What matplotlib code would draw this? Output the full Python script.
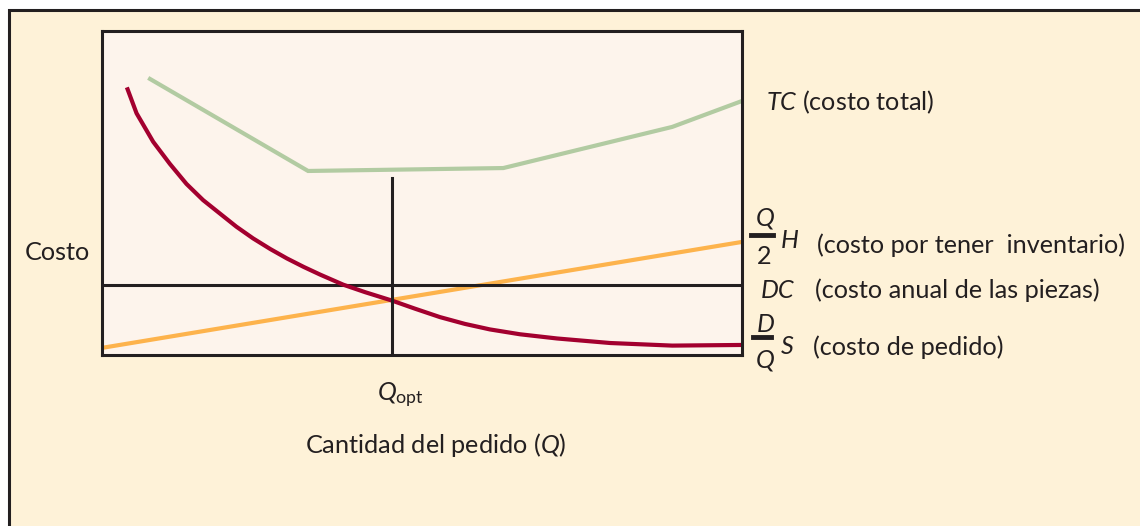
import matplotlib
matplotlib.use("Agg")
import matplotlib.pyplot as plt
from matplotlib.patches import Rectangle
from matplotlib.lines import Line2D

plt.rcParams['font.family'] = ['Lato', 'DejaVu Sans']
plt.rcParams['mathtext.fontset'] = 'custom'
plt.rcParams['mathtext.rm'] = 'Lato'
plt.rcParams['mathtext.it'] = 'Lato:italic'

# cost curves (arbitrary units, Q from 0 to 10)
q_order = [0.40, 0.54, 0.80, 1.06, 1.32, 1.58, 1.84, 2.10, 2.36, 2.63, 2.89, 3.15, 3.41,
           3.77, 4.11, 4.53, 4.89, 5.28, 5.67, 6.06, 6.53, 7.11, 7.94, 8.91, 10.0]
cost_order = [8.20, 7.46, 6.58, 5.90, 5.28, 4.78, 4.37, 3.96, 3.60, 3.27, 2.98, 2.72, 2.48,
              2.17, 1.94, 1.68, 1.43, 1.17, 0.96, 0.79, 0.64, 0.51, 0.37, 0.29, 0.31]

q_total = [0.75, 3.22, 6.27, 8.91, 10.0]
cost_total = [8.52, 5.68, 5.77, 7.04, 7.84]

q_hold = [0.0, 10.0]
cost_hold = [0.22, 3.49]

cost_annual = 2.16
q_opt = 4.53
q_opt_top = 5.46

W, H = 1140, 526
def fx(x):
    return x / W
def fy(y):
    return 1 - y / H

fig = plt.figure(figsize=(11.4, 5.26), dpi=100)
fig.patch.set_facecolor('white')
fig.add_artist(Rectangle((fx(8.5), -0.1), 1.2, fy(9.5) + 0.1, transform=fig.transFigure,
                         facecolor='#FEF2D8', edgecolor='#231F20', linewidth=2.2, zorder=-10))

ax = fig.add_axes([fx(102), fy(355), 640 / W, 324 / H])
ax.set_facecolor('#FDF4EC')
ax.set_xlim(0, 10)
ax.set_ylim(0, 10)
ax.set_xticks([])
ax.set_yticks([])
for s in ax.spines.values():
    s.set_linewidth(2.2)
    s.set_color('#231F20')

ax.plot(q_total, cost_total, color='#B2CBA2', lw=3, solid_joinstyle='miter')
ax.plot(q_hold, cost_hold, color='#FDB34C', lw=3)
ax.axhline(cost_annual, color='#231F20', lw=2.2)
ax.plot(q_order, cost_order, color='#A3002F', lw=3, solid_joinstyle='round')
ax.plot([q_opt, q_opt], [0, q_opt_top], color='#231F20', lw=2.2)

fs = 18.2
tc = '#231F20'
fig.text(fx(25), fy(253), 'Costo', fontsize=fs, color=tc, va='center')
fig.text(fx(377), fy(395), r'$Q_{\mathrm{opt}}$', fontsize=fs, color=tc, va='center')
fig.text(fx(305), fy(445), r'Cantidad del pedido ($Q$)', fontsize=fs, color=tc, va='center')

fig.text(fx(766), fy(102), r'$TC$ (costo total)', fontsize=fs, color=tc, va='center')

fig.text(fx(756), fy(218), 'Q', fontsize=fs, color=tc, va='center', style='italic')
fig.add_artist(Line2D([fx(751), fx(773)], [fy(235), fy(235)], color=tc, lw=3.5))
fig.text(fx(757), fy(257), '2', fontsize=fs, color=tc, va='center')
fig.text(fx(781), fy(240), 'H', fontsize=fs, color=tc, va='center', style='italic')
fig.text(fx(817), fy(245), '(costo por tener  inventario)', fontsize=fs, color=tc, va='center')

fig.text(fx(761), fy(290), 'DC', fontsize=fs, color=tc, va='center', style='italic')
fig.text(fx(815), fy(290), '(costo anual de las piezas)', fontsize=fs, color=tc, va='center')

fig.text(fx(757), fy(325), 'D', fontsize=fs, color=tc, va='center', style='italic')
fig.add_artist(Line2D([fx(753), fx(771)], [fy(337), fy(337)], color=tc, lw=3.5))
fig.text(fx(756), fy(360), 'Q', fontsize=fs, color=tc, va='center', style='italic')
fig.text(fx(781), fy(347), 'S', fontsize=fs, color=tc, va='center', style='italic')
fig.text(fx(813), fy(347), '(costo de pedido)', fontsize=fs, color=tc, va='center')

fig.savefig('out.png', dpi=100)
